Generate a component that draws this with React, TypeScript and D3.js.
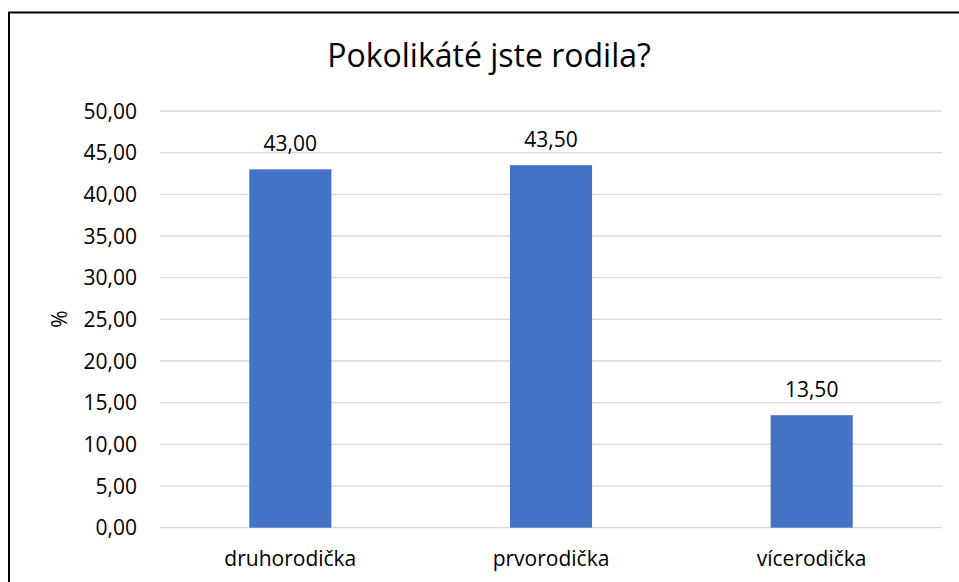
import React from "react";
import * as d3 from "d3";

const categories = ["druhorodička", "prvorodička", "vícerodička"];
const values = [43.0, 43.5, 13.5];
const yTicks = [0, 5, 10, 15, 20, 25, 30, 35, 40, 45, 50];
const title = "Pokolikáté jste rodila?";
const yAxisLabel = "%";

const W = 959;
const H = 582;
const plot = { left: 160, right: 942, top: 111, bottom: 527.7 };
const FONT = "'Open Sans', sans-serif";

const fmt = (v: number) => v.toFixed(2).replace(".", ",");

export default function App() {
  const x = d3
    .scaleBand<string>()
    .domain(categories)
    .range([plot.left, plot.right])
    .paddingInner(0.685)
    .paddingOuter(0.3425);
  const y = d3.scaleLinear().domain([0, 50]).range([plot.bottom, plot.top]);

  return (
    <svg
      width={W}
      height={H}
      style={{ position: "absolute", left: 0, top: 0, background: "#fff" }}
    >
      <rect x={0} y={0} width={W} height={H} fill="#fff" />
      <path d={`M9,${H + 5} V12.5 H${W + 5}`} fill="none" stroke="#000" strokeWidth={2} />
      <text x={489} y={67} textAnchor="middle" fontFamily={FONT} fontSize={32} fill="#000">
        {title}
      </text>
      {yTicks.map((t) => (
        <g key={t}>
          <line
            x1={plot.left}
            x2={plot.right}
            y1={y(t)}
            y2={y(t)}
            stroke="#D9D9D9"
            strokeWidth={1.3}
          />
          <text
            x={137}
            y={y(t)}
            dy="0.36em"
            textAnchor="end"
            fontFamily={FONT}
            fontSize={21}
            fill="#000"
          >
            {fmt(t)}
          </text>
        </g>
      ))}
      {categories.map((c, i) => (
        <g key={c}>
          <rect
            x={x(c)}
            y={y(values[i])}
            width={x.bandwidth()}
            height={y(0) - y(values[i])}
            fill="#4472C4"
          />
          <text
            x={(x(c) as number) + x.bandwidth() / 2}
            y={y(values[i]) - 18}
            textAnchor="middle"
            fontFamily={FONT}
            fontSize={21}
            fill="#000"
          >
            {fmt(values[i])}
          </text>
          <text
            x={(x(c) as number) + x.bandwidth() / 2}
            y={566}
            textAnchor="middle"
            fontFamily={FONT}
            fontSize={21}
            fill="#000"
          >
            {c}
          </text>
        </g>
      ))}
      <text
        transform={`translate(59,319) rotate(-90)`}
        textAnchor="middle"
        dy="0.36em"
        fontFamily={FONT}
        fontSize={21}
        fill="#000"
      >
        {yAxisLabel}
      </text>
    </svg>
  );
}
